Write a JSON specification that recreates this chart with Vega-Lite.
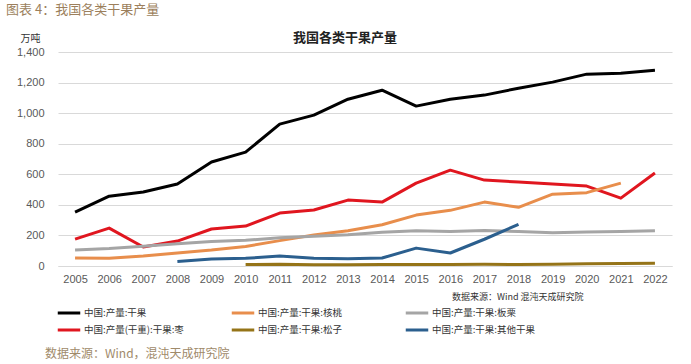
{
  "$schema": "https://vega.github.io/schema/vega-lite/v6.json",
  "padding": {"left": 5, "top": 4, "right": 5, "bottom": 2},
  "background": "white",
  "title": {"text": "数据来源：Wind，混沌天成研究院", "orient": "bottom", "anchor": "start", "dx": 40, "offset": 11, "font": "Noto Sans CJK SC", "fontSize": 12, "fontWeight": "normal", "color": "#a08a6a"},
  "vconcat": [
    {
      "title": {"text": "图表 4：我国各类干果产量", "anchor": "start", "dx": 1, "offset": 15, "font": "Noto Sans CJK SC", "fontSize": 13, "fontWeight": "normal", "color": "#9c7f5c"},
      "vconcat": [
        {
          "width": 614,
          "height": 214,
          "title": {"text": "我国各类干果产量", "anchor": "middle", "dx": -20, "offset": -12, "font": "Noto Sans CJK SC", "fontSize": 13, "fontWeight": "bold", "color": "#222222"},
          "data": {"values": [
            {"year": "2005", "series": "中国:产量:干果", "value": 353},
            {"year": "2006", "series": "中国:产量:干果", "value": 457},
            {"year": "2007", "series": "中国:产量:干果", "value": 484},
            {"year": "2008", "series": "中国:产量:干果", "value": 536},
            {"year": "2009", "series": "中国:产量:干果", "value": 680},
            {"year": "2010", "series": "中国:产量:干果", "value": 745},
            {"year": "2011", "series": "中国:产量:干果", "value": 928},
            {"year": "2012", "series": "中国:产量:干果", "value": 987},
            {"year": "2013", "series": "中国:产量:干果", "value": 1091},
            {"year": "2014", "series": "中国:产量:干果", "value": 1150},
            {"year": "2015", "series": "中国:产量:干果", "value": 1046},
            {"year": "2016", "series": "中国:产量:干果", "value": 1091},
            {"year": "2017", "series": "中国:产量:干果", "value": 1118},
            {"year": "2018", "series": "中国:产量:干果", "value": 1163},
            {"year": "2019", "series": "中国:产量:干果", "value": 1203},
            {"year": "2020", "series": "中国:产量:干果", "value": 1255},
            {"year": "2021", "series": "中国:产量:干果", "value": 1261},
            {"year": "2022", "series": "中国:产量:干果", "value": 1281},
            {"year": "2005", "series": "中国:产量(干重):干果:枣", "value": 176},
            {"year": "2006", "series": "中国:产量(干重):干果:枣", "value": 248},
            {"year": "2007", "series": "中国:产量(干重):干果:枣", "value": 124},
            {"year": "2008", "series": "中国:产量(干重):干果:枣", "value": 163},
            {"year": "2009", "series": "中国:产量(干重):干果:枣", "value": 242},
            {"year": "2010", "series": "中国:产量(干重):干果:枣", "value": 261},
            {"year": "2011", "series": "中国:产量(干重):干果:枣", "value": 346},
            {"year": "2012", "series": "中国:产量(干重):干果:枣", "value": 366},
            {"year": "2013", "series": "中国:产量(干重):干果:枣", "value": 431},
            {"year": "2014", "series": "中国:产量(干重):干果:枣", "value": 418},
            {"year": "2015", "series": "中国:产量(干重):干果:枣", "value": 542},
            {"year": "2016", "series": "中国:产量(干重):干果:枣", "value": 627},
            {"year": "2017", "series": "中国:产量(干重):干果:枣", "value": 562},
            {"year": "2018", "series": "中国:产量(干重):干果:枣", "value": 549},
            {"year": "2019", "series": "中国:产量(干重):干果:枣", "value": 536},
            {"year": "2020", "series": "中国:产量(干重):干果:枣", "value": 523},
            {"year": "2021", "series": "中国:产量(干重):干果:枣", "value": 444},
            {"year": "2022", "series": "中国:产量(干重):干果:枣", "value": 608},
            {"year": "2005", "series": "中国:产量:干果:核桃", "value": 52},
            {"year": "2006", "series": "中国:产量:干果:核桃", "value": 50},
            {"year": "2007", "series": "中国:产量:干果:核桃", "value": 65},
            {"year": "2008", "series": "中国:产量:干果:核桃", "value": 85},
            {"year": "2009", "series": "中国:产量:干果:核桃", "value": 104},
            {"year": "2010", "series": "中国:产量:干果:核桃", "value": 128},
            {"year": "2011", "series": "中国:产量:干果:核桃", "value": 166},
            {"year": "2012", "series": "中国:产量:干果:核桃", "value": 203},
            {"year": "2013", "series": "中国:产量:干果:核桃", "value": 230},
            {"year": "2014", "series": "中国:产量:干果:核桃", "value": 270},
            {"year": "2015", "series": "中国:产量:干果:核桃", "value": 333},
            {"year": "2016", "series": "中国:产量:干果:核桃", "value": 364},
            {"year": "2017", "series": "中国:产量:干果:核桃", "value": 418},
            {"year": "2018", "series": "中国:产量:干果:核桃", "value": 384},
            {"year": "2019", "series": "中国:产量:干果:核桃", "value": 470},
            {"year": "2020", "series": "中国:产量:干果:核桃", "value": 480},
            {"year": "2021", "series": "中国:产量:干果:核桃", "value": 542},
            {"year": "2005", "series": "中国:产量:干果:板栗", "value": 105},
            {"year": "2006", "series": "中国:产量:干果:板栗", "value": 115},
            {"year": "2007", "series": "中国:产量:干果:板栗", "value": 130},
            {"year": "2008", "series": "中国:产量:干果:板栗", "value": 145},
            {"year": "2009", "series": "中国:产量:干果:板栗", "value": 160},
            {"year": "2010", "series": "中国:产量:干果:板栗", "value": 168},
            {"year": "2011", "series": "中国:产量:干果:板栗", "value": 185},
            {"year": "2012", "series": "中国:产量:干果:板栗", "value": 195},
            {"year": "2013", "series": "中国:产量:干果:板栗", "value": 205},
            {"year": "2014", "series": "中国:产量:干果:板栗", "value": 220},
            {"year": "2015", "series": "中国:产量:干果:板栗", "value": 230},
            {"year": "2016", "series": "中国:产量:干果:板栗", "value": 225},
            {"year": "2017", "series": "中国:产量:干果:板栗", "value": 233},
            {"year": "2018", "series": "中国:产量:干果:板栗", "value": 225},
            {"year": "2019", "series": "中国:产量:干果:板栗", "value": 218},
            {"year": "2020", "series": "中国:产量:干果:板栗", "value": 222},
            {"year": "2021", "series": "中国:产量:干果:板栗", "value": 225},
            {"year": "2022", "series": "中国:产量:干果:板栗", "value": 230},
            {"year": "2010", "series": "中国:产量:干果:松子", "value": 9},
            {"year": "2011", "series": "中国:产量:干果:松子", "value": 11},
            {"year": "2012", "series": "中国:产量:干果:松子", "value": 8},
            {"year": "2013", "series": "中国:产量:干果:松子", "value": 8},
            {"year": "2014", "series": "中国:产量:干果:松子", "value": 9},
            {"year": "2015", "series": "中国:产量:干果:松子", "value": 10},
            {"year": "2016", "series": "中国:产量:干果:松子", "value": 10},
            {"year": "2017", "series": "中国:产量:干果:松子", "value": 11},
            {"year": "2018", "series": "中国:产量:干果:松子", "value": 10},
            {"year": "2019", "series": "中国:产量:干果:松子", "value": 12},
            {"year": "2020", "series": "中国:产量:干果:松子", "value": 14},
            {"year": "2021", "series": "中国:产量:干果:松子", "value": 16},
            {"year": "2022", "series": "中国:产量:干果:松子", "value": 18},
            {"year": "2008", "series": "中国:产量:干果:其他干果", "value": 29},
            {"year": "2009", "series": "中国:产量:干果:其他干果", "value": 45},
            {"year": "2010", "series": "中国:产量:干果:其他干果", "value": 50},
            {"year": "2011", "series": "中国:产量:干果:其他干果", "value": 65},
            {"year": "2012", "series": "中国:产量:干果:其他干果", "value": 50},
            {"year": "2013", "series": "中国:产量:干果:其他干果", "value": 48},
            {"year": "2014", "series": "中国:产量:干果:其他干果", "value": 52},
            {"year": "2015", "series": "中国:产量:干果:其他干果", "value": 117},
            {"year": "2016", "series": "中国:产量:干果:其他干果", "value": 85},
            {"year": "2017", "series": "中国:产量:干果:其他干果", "value": 175},
            {"year": "2018", "series": "中国:产量:干果:其他干果", "value": 272}
          ]},
          "mark": {"type": "line", "strokeWidth": 3, "strokeJoin": "round"},
          "encoding": {
            "x": {
              "field": "year", "type": "ordinal",
              "scale": {"padding": 0.5},
              "axis": {
                "title": "数据来源：Wind  混沌天成研究院",
                "titleFont": "Noto Sans CJK SC", "titleFontSize": 9, "titleFontWeight": "normal", "titleColor": "#333333",
                "titleAnchor": "end", "titleX": 525, "titleAlign": "right", "titlePadding": 8,
                "labelAngle": 0, "labelFont": "Liberation Sans", "labelFontSize": 11, "labelColor": "#595959", "labelPadding": 7,
                "ticks": false, "domainColor": "#d9d9d9", "domainWidth": 1
              }
            },
            "y": {
              "field": "value", "type": "quantitative",
              "scale": {"domain": [0, 1400], "nice": false},
              "axis": {
                "title": "万吨", "titleAngle": 0, "titleX": -38, "titleY": -9, "titleAlign": "left", "titleBaseline": "bottom",
                "titleFont": "Noto Sans CJK SC", "titleFontSize": 10, "titleFontWeight": "normal", "titleColor": "#333333",
                "values": [0, 200, 400, 600, 800, 1000, 1200, 1400], "format": ",.0f",
                "labelFont": "Liberation Sans", "labelFontSize": 11, "labelColor": "#595959", "labelPadding": 14,
                "minExtent": 53,
                "ticks": false, "domain": false, "gridColor": "#d9d9d9", "gridWidth": 1
              }
            },
            "color": {
              "field": "series", "type": "nominal",
              "scale": {
                "domain": ["中国:产量:干果", "中国:产量:干果:核桃", "中国:产量:干果:板栗", "中国:产量(干重):干果:枣", "中国:产量:干果:松子", "中国:产量:干果:其他干果"],
                "range": ["#000000", "#e88e4c", "#a5a5a5", "#e0161f", "#957418", "#2b5f8e"]
              },
              "legend": {
                "title": null, "orient": "bottom", "direction": "horizontal", "columns": 3,
                "symbolType": "M-1.5,0H1.5", "symbolSize": 225, "symbolStrokeWidth": 3,
                "labelFont": "Noto Sans CJK SC", "labelFontSize": 9.5, "labelColor": "#333333",
                "gridAlign": "all", "columnPadding": 38, "rowPadding": 2, "offset": 1, "padding": 2, "labelOffset": 6, "labelLimit": 200
              }
            }
          }
        }
      ]
    }
  ],
  "config": {
    "view": {"stroke": null},
    "concat": {"spacing": 0}
  }
}
